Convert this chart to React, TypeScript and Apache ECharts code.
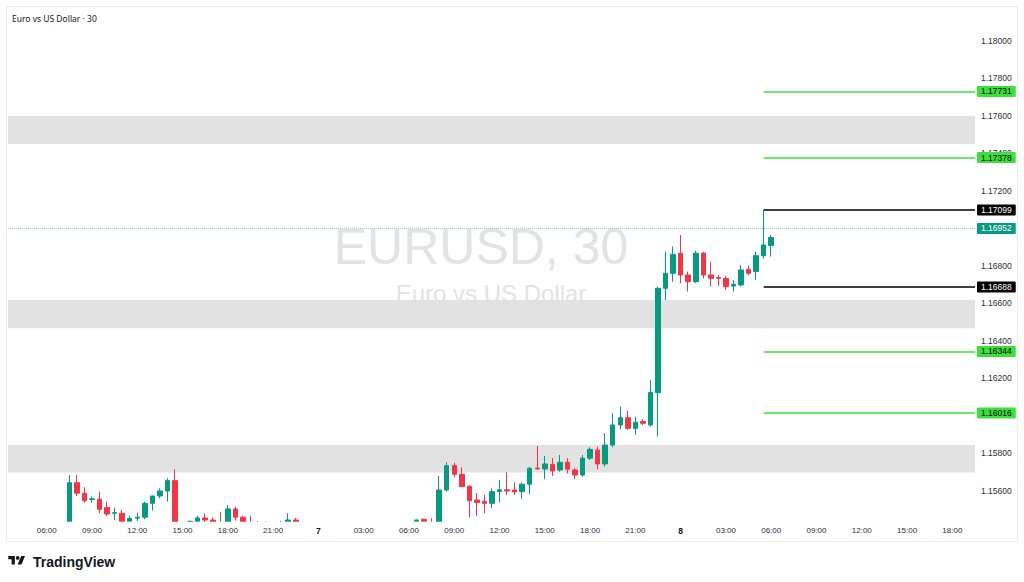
import React, { useEffect, useRef } from "react";
import * as echarts from "echarts";

// ---------- data ----------
const chartTitle = "Euro vs US Dollar · 30";
const watermarkSymbol = "EURUSD, 30";
const watermarkName = "Euro vs US Dollar";

// 30-minute candles, consecutive from this time ("day hh:mm")
const firstCandleTime = "6 07:30";
// [open, close, low, high]
const candles: number[][] = [
  [1.1538, 1.15644, 1.1536, 1.15685],
  [1.15644, 1.15588, 1.15573, 1.15685],
  [1.15588, 1.15548, 1.15538, 1.1562],
  [1.15554, 1.15558, 1.15538, 1.1557],
  [1.15556, 1.15502, 1.15481, 1.15596],
  [1.15511, 1.15477, 1.15467, 1.15543],
  [1.15481, 1.15484, 1.15445, 1.15511],
  [1.15481, 1.15438, 1.1542, 1.15499],
  [1.15438, 1.15454, 1.1542, 1.15467],
  [1.15455, 1.1546, 1.1544, 1.15484],
  [1.1546, 1.15534, 1.15449, 1.15543],
  [1.15534, 1.15573, 1.15495, 1.15575],
  [1.15573, 1.156, 1.15561, 1.15614],
  [1.156, 1.15655, 1.15543, 1.15668],
  [1.15655, 1.1538, 1.1535, 1.15716],
  [1.1538, 1.1537, 1.1534, 1.1542],
  [1.1537, 1.15438, 1.1535, 1.15442],
  [1.15438, 1.15456, 1.1543, 1.15467],
  [1.15456, 1.15445, 1.1543, 1.15481],
  [1.15445, 1.15425, 1.1541, 1.15458],
  [1.1543, 1.15415, 1.154, 1.15489],
  [1.1541, 1.15504, 1.1539, 1.15525],
  [1.15504, 1.1546, 1.15441, 1.15516],
  [1.1546, 1.15432, 1.1541, 1.15467],
  [1.1542, 1.15412, 1.1538, 1.15467],
  [1.1541, 1.1542, 1.1539, 1.1544],
  [1.1542, 1.1541, 1.15395, 1.15438],
  [1.1541, 1.154, 1.1538, 1.1543],
  [1.154, 1.1542, 1.1539, 1.1544],
  [1.1542, 1.15445, 1.154, 1.15481],
  [1.15445, 1.15428, 1.1541, 1.15456],
  [1.15428, 1.1541, 1.15395, 1.15432],
  [1.1541, 1.15395, 1.1538, 1.15425],
  [1.15395, 1.15405, 1.1537, 1.1542],
  [1.15405, 1.1539, 1.15375, 1.15415],
  [1.1539, 1.1538, 1.1536, 1.1541],
  [1.1538, 1.15395, 1.15365, 1.15405],
  [1.15395, 1.15385, 1.1537, 1.1541],
  [1.15385, 1.154, 1.15375, 1.15415],
  [1.154, 1.1539, 1.1537, 1.1542],
  [1.1539, 1.15405, 1.1538, 1.15425],
  [1.15405, 1.15415, 1.1539, 1.15428],
  [1.15415, 1.154, 1.15385, 1.1543],
  [1.154, 1.1542, 1.1539, 1.15432],
  [1.1542, 1.1543, 1.15405, 1.15434],
  [1.1543, 1.15432, 1.1541, 1.15435],
  [1.15438, 1.15445, 1.1541, 1.15448],
  [1.15449, 1.15438, 1.1542, 1.15452],
  [1.1543, 1.1542, 1.1539, 1.15454],
  [1.154, 1.15605, 1.1538, 1.1568],
  [1.15605, 1.15735, 1.15596, 1.15753],
  [1.15735, 1.15689, 1.15673, 1.15751],
  [1.15689, 1.15623, 1.15622, 1.15726],
  [1.15625, 1.15548, 1.15458, 1.1563],
  [1.15552, 1.15538, 1.15467, 1.15588],
  [1.15545, 1.15534, 1.15481, 1.15579],
  [1.15534, 1.15596, 1.15508, 1.15614],
  [1.15597, 1.15606, 1.15538, 1.15659],
  [1.15606, 1.156, 1.15579, 1.157],
  [1.15605, 1.15595, 1.15579, 1.15646],
  [1.15596, 1.15636, 1.15559, 1.15646],
  [1.15636, 1.15721, 1.15584, 1.15726],
  [1.15722, 1.15719, 1.15712, 1.1584],
  [1.15717, 1.15744, 1.15663, 1.15787],
  [1.15742, 1.15707, 1.1568, 1.15775],
  [1.15712, 1.15753, 1.15703, 1.15792],
  [1.15753, 1.15716, 1.15694, 1.15775],
  [1.15712, 1.15685, 1.15663, 1.15721],
  [1.15685, 1.15775, 1.15676, 1.15792],
  [1.15775, 1.15822, 1.15765, 1.15833],
  [1.15818, 1.15744, 1.15716, 1.15836],
  [1.15744, 1.15845, 1.1573, 1.15908],
  [1.15845, 1.15952, 1.15833, 1.16014],
  [1.15952, 1.15991, 1.15929, 1.1605],
  [1.15991, 1.15934, 1.15925, 1.16028],
  [1.15934, 1.15966, 1.15899, 1.15996],
  [1.1597, 1.15961, 1.15952, 1.15982],
  [1.15952, 1.16126, 1.15943, 1.16192],
  [1.16124, 1.16681, 1.1589, 1.1669],
  [1.16681, 1.16761, 1.16619, 1.16876],
  [1.16761, 1.16862, 1.16716, 1.16903],
  [1.16867, 1.16752, 1.16708, 1.16965],
  [1.16752, 1.16716, 1.16663, 1.1677],
  [1.16716, 1.16868, 1.16708, 1.16882],
  [1.16868, 1.16752, 1.16734, 1.16876],
  [1.16752, 1.16734, 1.1669, 1.16823],
  [1.16739, 1.16734, 1.16693, 1.16752],
  [1.16734, 1.1669, 1.16672, 1.16747],
  [1.16693, 1.16702, 1.16663, 1.16725],
  [1.16699, 1.16779, 1.1669, 1.16805],
  [1.16782, 1.16761, 1.16752, 1.16802],
  [1.1677, 1.16855, 1.16725, 1.16876],
  [1.16855, 1.16912, 1.16841, 1.17099],
  [1.16909, 1.16952, 1.1685, 1.16965],
];

const timeTicks = [
  "6 06:00", "6 09:00", "6 12:00", "6 15:00", "6 18:00", "6 21:00",
  "7 00:00", "7 03:00", "7 06:00", "7 09:00", "7 12:00", "7 15:00", "7 18:00", "7 21:00",
  "8 00:00", "8 03:00", "8 06:00", "8 09:00", "8 12:00", "8 15:00", "8 18:00",
];
// 1.16000 is hidden behind the 1.16016 tag in the reference
const priceTicks = [
  1.156, 1.158, 1.162, 1.164, 1.166, 1.168, 1.17, 1.172, 1.174, 1.176, 1.178, 1.18,
];

const greenLevels = [1.17731, 1.17378, 1.16344, 1.16016];
const blackLevels = [1.17099, 1.16688];
const lastPrice = 1.16952;
const levelStartTime = "8 05:30";
const zones = [
  [1.176, 1.17451],
  [1.16619, 1.16468],
  [1.15845, 1.15698],
];

// visible window
const viewStartSlot = 6.87;
const viewEndSlot = 135.0;
const priceMin = 1.15436;
const priceMax = 1.18176;

// ---------- helpers ----------
const toSlot = (t: string) => {
  const [d, hm] = t.split(" ");
  const [h, m] = hm.split(":").map(Number);
  return (Number(d) - 6) * 48 + h * 2 + m / 30;
};

const UP = "#089981";
const DOWN = "#f23645";
const LIME = "#3be03b";
const AXIS_FONT = "Liberation Sans";

const GRID = { left: 8, right: 49, top: 8, bottom: 60.3 };
const W = 1024;
const H = 582;

const logoPath =
  "M14 22H7V11H0V4h14v18zM28 22h-8l7.5-18h8L28 22zM24 8a4 4 0 1 1-8 0a4 4 0 1 1 8 0z";
echarts.graphic.registerShape("tvlogo", echarts.graphic.extendPath(logoPath, {}) as any);

export default function App() {
  const ref = useRef<HTMLDivElement>(null);

  useEffect(() => {
    if (!ref.current) return;
    const chart = echarts.init(ref.current, null, { renderer: "svg" });

    const start = toSlot(firstCandleTime);
    const candleData = candles.map((c, i) => [start + i, c[0], c[1], c[2], c[3]]);
    const tickSlots = timeTicks.map(toSlot);
    const tickLabel: Record<string, string> = {};
    timeTicks.forEach((t) => {
      const [d, hm] = t.split(" ");
      tickLabel[String(toSlot(t))] = hm === "00:00" ? `{day|${d}}` : hm;
    });
    const levelStart = toSlot(levelStartTime);

    const tag = (bg: string, fg: string) => ({
      show: true,
      position: "end",
      distance: 2,
      backgroundColor: bg,
      color: fg,
      opacity: 1,
      fontSize: 8.5,
      fontFamily: AXIS_FONT,
      lineHeight: 9,
      padding: [1, 4, 1, 4],
      borderRadius: 1,
    });

    const levelLine = (v: number, color: string, fg: string) => [
      {
        coord: [levelStart, v],
        lineStyle: { color, width: 1.5, type: "solid" },
        label: { ...tag(color, fg), formatter: v.toFixed(5) },
      },
      { coord: [viewEndSlot, v] },
    ];

    const plotBottom = H - GRID.bottom;

    const option: any = {
      animation: false,
      backgroundColor: "#ffffff",
      grid: { ...GRID, containLabel: false },
      xAxis: {
        type: "value",
        z: 10,
        min: viewStartSlot,
        max: viewEndSlot,
        axisLine: { show: false },
        axisTick: { show: false },
        splitLine: { show: false },
        axisLabel: {
          customValues: tickSlots,
          margin: 5,
          fontSize: 8,
          fontFamily: AXIS_FONT,
          color: "#2a2e39",
          formatter: (v: number) => tickLabel[String(v)] ?? "",
          rich: { day: { fontWeight: "bold", fontSize: 8.5, fontFamily: AXIS_FONT, color: "#131722" } },
        },
      },
      yAxis: {
        type: "value",
        position: "right",
        min: priceMin,
        max: priceMax,
        scale: true,
        axisLine: { show: false },
        axisTick: { show: false },
        splitLine: { show: false },
        axisLabel: {
          customValues: priceTicks,
          margin: 6,
          fontSize: 8.5,
          fontFamily: AXIS_FONT,
          color: "#2a2e39",
          formatter: (v: number) => v.toFixed(5),
        },
      },
      graphic: [
        {
          // hides the parts of candles that fall below the visible price range
          type: "rect",
          silent: true,
          z: 5,
          shape: { x: 7, y: plotBottom, width: W - GRID.right - 7, height: 541 - plotBottom },
          style: { fill: "#ffffff" },
        },
        {
          type: "rect",
          silent: true,
          z: 6,
          shape: { x: 6.5, y: 6.5, width: 1011, height: 535 },
          style: { fill: "none", stroke: "#ededed", lineWidth: 1 },
        },
        {
          type: "text",
          silent: true,
          z: -5,
          x: 481,
          y: 247,
          style: {
            text: watermarkSymbol,
            fontSize: 50,
            fontFamily: "Liberation Sans",
            fill: "#e3e3e5",
            align: "center",
            verticalAlign: "middle",
          },
        },
        {
          type: "text",
          silent: true,
          z: -5,
          x: 491,
          y: 293,
          style: {
            text: watermarkName,
            fontSize: 24,
            fontFamily: "Liberation Sans",
            fill: "#e3e3e5",
            align: "center",
            verticalAlign: "middle",
          },
        },
        {
          type: "text",
          x: 12,
          y: 18,
          style: {
            text: chartTitle,
            fontSize: 8.5,
            fontFamily: "Noto Sans",
            fill: "#131722",
            align: "left",
            verticalAlign: "middle",
          },
        },
        {
          type: "tvlogo",
          x: 8.3,
          y: 554.2,
          scaleX: 0.47,
          scaleY: 0.47,
          style: { fill: "#131722" },
        },
        {
          type: "text",
          x: 33,
          y: 562,
          style: {
            text: "TradingView",
            fontSize: 14,
            fontWeight: "bold",
            fontFamily: "Liberation Sans",
            fill: "#131722",
            align: "left",
            verticalAlign: "middle",
          },
        },
      ],
      series: [
        {
          type: "candlestick",
          data: candleData,
          encode: { x: 0, y: [1, 2, 3, 4] },
          barWidth: 5,
          clip: true,
          itemStyle: {
            color: UP,
            color0: DOWN,
            borderColor: UP,
            borderColor0: DOWN,
            borderWidth: 1,
          },
          markArea: {
            silent: true,
            itemStyle: { color: "#e2e2e2", opacity: 1 },
            data: zones.map((z) => [{ yAxis: z[0] }, { yAxis: z[1] }]),
          },
          markLine: {
            silent: true,
            symbol: ["none", "none"],
            animation: false,
            data: [
              {
                yAxis: lastPrice,
                lineStyle: { color: "rgba(8,153,129,0.45)", width: 1, type: "dotted" },
                label: { ...tag(UP, "#ffffff"), formatter: lastPrice.toFixed(5) },
              },
              ...greenLevels.map((v) => levelLine(v, LIME, "#000000")),
              ...blackLevels.map((v) => levelLine(v, "#000000", "#ffffff")),
            ],
          },
        },
      ],
    };

    chart.setOption(option);
    return () => chart.dispose();
  }, []);

  return (
    <div
      ref={ref}
      style={{ position: "fixed", left: 0, top: 0, width: W, height: H, background: "#fff" }}
    />
  );
}
